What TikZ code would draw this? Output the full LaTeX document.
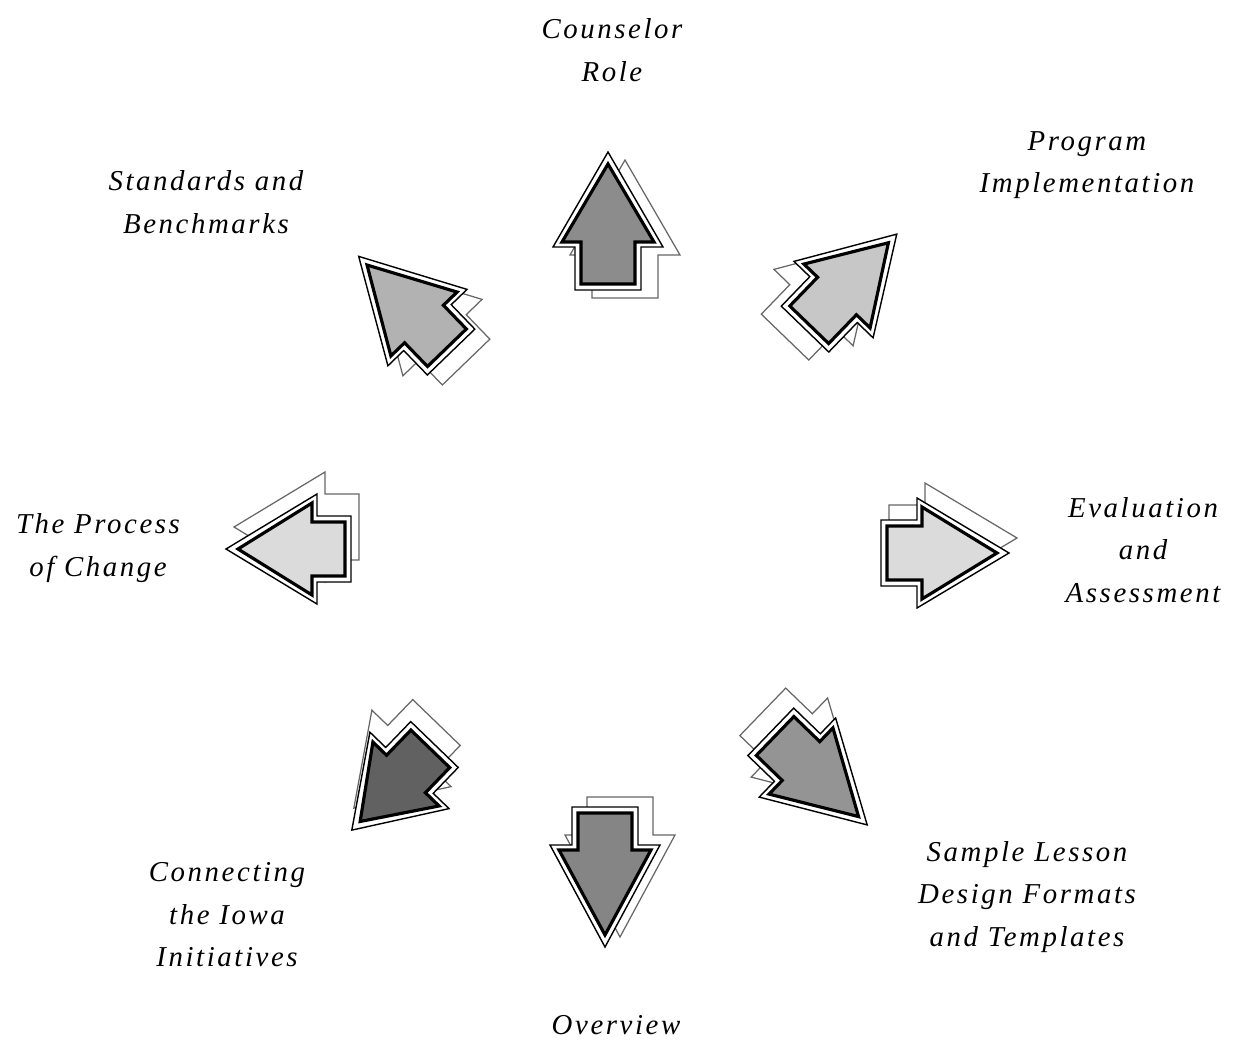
\documentclass[tikz,border=0pt]{standalone}
\usepackage{fontspec}
\newfontfamily\lblfont[LetterSpace=9]{Liberation Serif}
\usetikzlibrary{positioning}
% block arrow pointing along +x, head base at the origin
\newcommand{\arrowpath}[2]{(#1,0) -- (0,46) -- (0,27) -- ({-(#2)},27)
  -- ({-(#2)},-27) -- (0,-27) -- (0,-46) -- cycle}
\newcommand{\outerpath}[2]{({#1+12},0) -- (-5,55) -- (-5,33) -- ({-(#2)-6},33)
  -- ({-(#2)-6},-33) -- (-5,-33) -- (-5,-55) -- cycle}
% #1 base, #2 angle, #3 head length, #4 shaft length, #5 fill, #6 shadow shift
\newcommand{\outarrow}[6]{%
  \begin{scope}[shift={#1}, shift={#6}, rotate=#2]
    \draw[arrshadow] \outerpath{#3}{#4};
  \end{scope}
  \begin{scope}[shift={#1}, rotate=#2]
    \draw[arrouter] \outerpath{#3}{#4};
    \draw[arrbody, fill=#5] \arrowpath{#3}{#4};
  \end{scope}}
\tikzset{
  arrbody/.style  ={line width=0.9pt, line join=miter},
  arrouter/.style ={line width=0.4pt, fill=white},
  arrshadow/.style={line width=0.35pt, black!60, fill=white},
  lbl/.style      ={font=\lblfont\itshape\fontsize{8.2}{12.1}\selectfont,
                    align=center, inner sep=0pt},
}
\begin{document}
\begin{tikzpicture}[x=0.1mm, y=-0.1mm]
  \useasboundingbox (0,0) rectangle (1237,1044);
  \outarrow{(608,242)}{90}{78}{42}{black!45}{(17,8)}
  \outarrow{(837,296)}{46}{74}{40}{black!22}{(-20,8)}
  \outarrow{(922,553)}{0}{75}{35}{black!14}{(8,-15)}
  \outarrow{(801,761)}{-44}{80}{36}{black!42}{(-8,-20)}
  \outarrow{(605,850)}{270}{85}{37}{black!48}{(15,-10)}
  \outarrow{(406,774)}{226}{66}{35}{black!62}{(2,-22)}
  \outarrow{(312,549)}{180}{74}{33}{black!14}{(8,-22)}
  \outarrow{(424,324)}{134}{82}{33}{black!30}{(15,10)}
  \node[lbl] (role) at (612,50) {Counselor\\Role};
  \node[lbl] (impl) at (1087,165) {Program\\Implementation};
  \node[lbl] (eval) at (1143,550) {Evaluation\\and\\Assessment};
  \node[lbl] (lesson) at (1027,897) {Sample Lesson\\Design Formats\\and Templates};
  \node[lbl] (over) at (616,1025) {Overview};
  \node[lbl] (iowa) at (227,915) {Connecting\\the Iowa\\Initiatives};
  \node[lbl] (change) at (98,548) {The Process\\of Change};
  \node[lbl] (stand) at (206,202) {Standards and\\Benchmarks};
\end{tikzpicture}
\end{document}
